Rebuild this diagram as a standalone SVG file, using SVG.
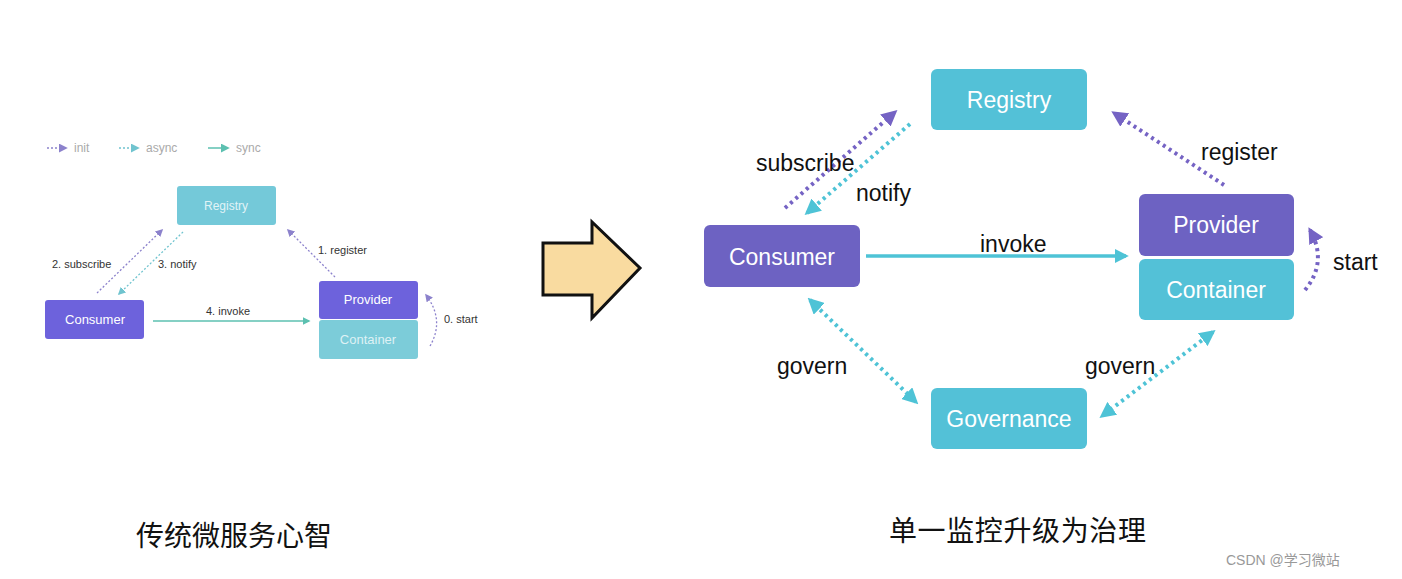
<svg xmlns="http://www.w3.org/2000/svg" width="1402" height="579" viewBox="0 0 1402 579">
<style>
text{font-family:"Liberation Sans",Arial,sans-serif}
.bt{fill:#fff;text-anchor:middle}
.lb{font-size:11px;fill:#333}
.rl{font-size:23px;fill:#111}
.cn{font-family:"Noto Sans CJK SC",sans-serif;font-size:28px;fill:#111}
</style>
<defs>
<marker id="ap" viewBox="0 0 10 10" refX="8" refY="5" markerWidth="4" markerHeight="4" orient="auto-start-reverse"><path d="M0,0L10,5L0,10z" fill="#7563c4"/></marker>
<marker id="ac" viewBox="0 0 10 10" refX="8" refY="5" markerWidth="4" markerHeight="4" orient="auto-start-reverse"><path d="M0,0L10,5L0,10z" fill="#4ec3d6"/></marker>
<marker id="sp" viewBox="0 0 10 10" refX="8" refY="5" markerWidth="6" markerHeight="6" orient="auto"><path d="M0,0L10,5L0,10z" fill="#8c82cc"/></marker>
<marker id="sc" viewBox="0 0 10 10" refX="8" refY="5" markerWidth="6" markerHeight="6" orient="auto"><path d="M0,0L10,5L0,10z" fill="#70c4cf"/></marker>
<marker id="sg" viewBox="0 0 10 10" refX="8" refY="5" markerWidth="6" markerHeight="6" orient="auto"><path d="M0,0L10,5L0,10z" fill="#5cc0b0"/></marker>
</defs>
<rect width="1402" height="579" fill="#fff"/>
<g id="legend">
<line x1="47" y1="148" x2="66" y2="148" stroke="#8c82cc" stroke-width="1.5" stroke-dasharray="2 2" marker-end="url(#sp)"/>
<text x="74" y="152" font-size="12" fill="#aaa">init</text>
<line x1="119" y1="148" x2="138" y2="148" stroke="#70c4cf" stroke-width="1.5" stroke-dasharray="2 2" marker-end="url(#sc)"/>
<text x="146" y="152" font-size="12" fill="#aaa">async</text>
<line x1="208" y1="148" x2="228" y2="148" stroke="#5cc0b0" stroke-width="1.5" marker-end="url(#sg)"/>
<text x="236" y="152" font-size="12" fill="#aaa">sync</text>
</g>
<g id="l-registry"><rect x="177" y="186" width="99" height="39" rx="3" fill="#74c9d9"/><text class="bt" x="226" y="210" font-size="12" fill-opacity="0.8">Registry</text></g>
<g id="l-consumer"><rect x="45" y="300" width="99" height="39" rx="3" fill="#6d62dc"/><text class="bt" x="95" y="324" font-size="13">Consumer</text></g>
<g id="l-provider"><rect x="319" y="281" width="99" height="38" rx="3" fill="#6d62dc"/><text class="bt" x="368" y="304" font-size="13">Provider</text></g>
<g id="l-container"><rect x="319" y="320" width="99" height="39" rx="3" fill="#7cccd9"/><text class="bt" x="368" y="344" font-size="13" fill-opacity="0.75">Container</text></g>
<g id="l-connectors">
<line x1="97" y1="293" x2="162" y2="230" stroke="#8c82cc" stroke-width="1.3" stroke-dasharray="2 2" marker-end="url(#sp)"/>
<line x1="183" y1="232" x2="119" y2="294" stroke="#70c4cf" stroke-width="1.3" stroke-dasharray="2 2" marker-end="url(#sc)"/>
<line x1="335" y1="277" x2="288" y2="230" stroke="#8c82cc" stroke-width="1.3" stroke-dasharray="2 2" marker-end="url(#sp)"/>
<line x1="153" y1="321" x2="309" y2="321" stroke="#5cc0b0" stroke-width="1.3" marker-end="url(#sg)"/>
<path d="M430,346 Q445,320 426,295" fill="none" stroke="#8c82cc" stroke-width="1.3" stroke-dasharray="2 2" marker-end="url(#sp)"/>
<text class="lb" x="52" y="268">2. subscribe</text>
<text class="lb" x="158" y="268">3. notify</text>
<text class="lb" x="318" y="254">1. register</text>
<text class="lb" x="206" y="315">4. invoke</text>
<text class="lb" x="444" y="323">0. start</text>
</g>
<g id="big-arrow"><path d="M543,243 H592 V222 L640,268 L592,318 V295 H543 Z" fill="#f9dba0" stroke="#111" stroke-width="3" stroke-linejoin="miter"/></g>
<g id="registry"><rect x="931" y="69" width="156" height="61" rx="6" fill="#53c1d7"/><text class="bt" x="1009" y="108" font-size="23">Registry</text></g>
<g id="consumer"><rect x="704" y="225" width="156" height="62" rx="6" fill="#6d62c2"/><text class="bt" x="782" y="265" font-size="23">Consumer</text></g>
<g id="provider"><rect x="1139" y="194" width="155" height="62" rx="6" fill="#6d62c2"/><text class="bt" x="1216" y="233" font-size="23">Provider</text></g>
<g id="container"><rect x="1139" y="259" width="155" height="61" rx="6" fill="#53c1d7"/><text class="bt" x="1216" y="298" font-size="23">Container</text></g>
<g id="governance"><rect x="931" y="388" width="156" height="61" rx="6" fill="#53c1d7"/><text class="bt" x="1009" y="427" font-size="23">Governance</text></g>
<g id="connectors" stroke-width="4" fill="none">
<line x1="785" y1="208" x2="895" y2="112" stroke="#7563c4" stroke-dasharray="3 4" marker-end="url(#ap)"/>
<line x1="910" y1="124" x2="807" y2="213" stroke="#4ec3d6" stroke-dasharray="3 4" marker-end="url(#ac)"/>
<line x1="866" y1="256" x2="1126" y2="256" stroke="#4ec3d6" stroke-width="3.5" marker-end="url(#ac)"/>
<line x1="1224" y1="185" x2="1114" y2="113" stroke="#7563c4" stroke-dasharray="3 4" marker-end="url(#ap)"/>
<path d="M1305,290 Q1328,262 1310,230" stroke="#7563c4" stroke-dasharray="3 4" marker-end="url(#ap)"/>
<line x1="810" y1="300" x2="916" y2="402" stroke="#4ec3d6" stroke-dasharray="3 4" marker-start="url(#ac)" marker-end="url(#ac)"/>
<line x1="1213" y1="332" x2="1102" y2="416" stroke="#4ec3d6" stroke-dasharray="3 4" marker-start="url(#ac)" marker-end="url(#ac)"/>
</g>
<g id="labels">
<text class="rl" x="756" y="171">subscribe</text>
<text class="rl" x="856" y="201">notify</text>
<text class="rl" x="980" y="252">invoke</text>
<text class="rl" x="1201" y="160">register</text>
<text class="rl" x="1333" y="270">start</text>
<text class="rl" x="777" y="374">govern</text>
<text class="rl" x="1085" y="374">govern</text>
</g>
<text class="cn" x="136" y="546">传统微服务心智</text>
<text class="cn" x="889" y="541" textLength="257">单一监控升级为治理</text>
<text x="1226" y="565" font-size="14" fill="#999" style="font-family:'Liberation Sans','Noto Sans CJK SC',sans-serif">CSDN @学习微站</text>
</svg>
